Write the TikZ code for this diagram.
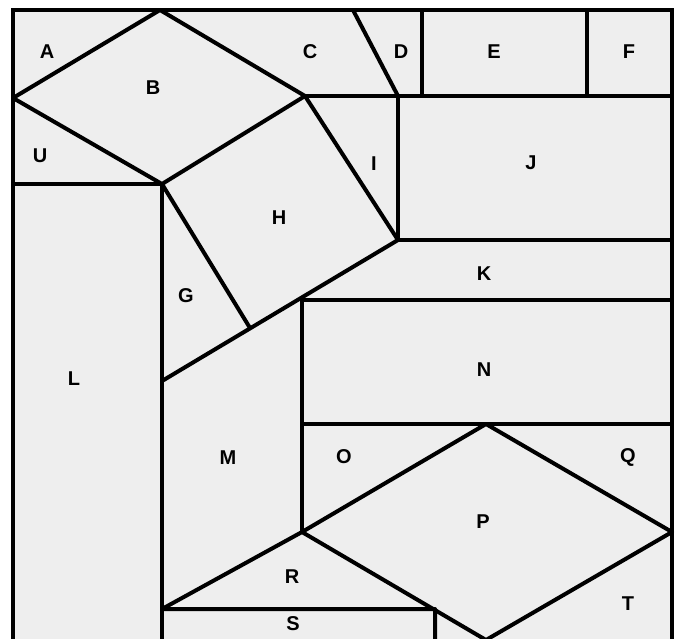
\documentclass[tikz,border=0pt]{standalone}
\usepackage{fontspec}
\setmainfont{Liberation Sans}
\usepackage{tikz}
\usepackage{xcolor}
\usetikzlibrary{positioning,calc}

\definecolor{tile}{HTML}{EEEEEE}

\begin{document}
\begin{tikzpicture}[
    x=1pt, y=-1pt,
    seam/.style={line width=4pt, black, line join=round},
    lbl/.style={font=\fontsize{20}{20}\selectfont\bfseries, inner sep=0pt}
]
    \useasboundingbox (0,0) rectangle (679,638);
    \clip (0,0) rectangle (679,638);

    % corner and seam points
    \coordinate (tl) at (13,10);
    \coordinate (tr) at (672,10);
    \coordinate (bl) at (13,660);
    \coordinate (br) at (672,660);
    \coordinate (Bt) at (160,10);
    \coordinate (Bl) at (13,98);
    \coordinate (Br) at (305,96);
    \coordinate (Bb) at (162,184);
    \coordinate (Hr) at (398,240);
    \coordinate (Hb) at (250,328);
    \coordinate (Gb) at (162,381);
    \coordinate (Dt) at (353,10);
    \coordinate (Db) at (398,96);
    \coordinate (Et) at (422,10);
    \coordinate (Ft) at (587,10);
    \coordinate (Kl) at (302,300);
    \coordinate (Nl) at (302,424);
    \coordinate (Pt) at (486,424);
    \coordinate (Pl) at (302,532);
    \coordinate (Pr) at (672,532);
    \coordinate (Pb) at (486,640);
    \coordinate (Rb) at (162,609);
    \coordinate (Sr) at (435,609);

    \fill[tile] (tl) rectangle (br);

    % outer frame
    \draw[seam, line join=miter] (bl) -- (tl) -- (tr) -- (br);

    % top band
    \draw[seam] (Bl) -- (Bt) -- (Br) -- (Bb) -- cycle;
    \draw[seam] (Dt) -- (Db);
    \draw[seam] (Br) -- (tr |- Br);
    \draw[seam] (Et) -- (Et |- Br);
    \draw[seam] (Ft) -- (Ft |- Br);
    \draw[seam] (Bl |- Bb) -- (Bb);

    % H square and its neighbours
    \draw[seam] (Br) -- (Hr) -- (Gb);
    \draw[seam] (Bb) -- (Hb);
    \draw[seam] (Db) -- (Hr) -- (tr |- Hr);
    \draw[seam] (Bb) -- (Bb |- bl);

    % middle rows
    \draw[seam] (Kl) -- (tr |- Kl);
    \draw[seam] (Nl) -- (tr |- Nl);
    \draw[seam] (Kl) -- (Pl);

    % P diamond and bottom strip
    \draw[seam] (Pl) -- (Pt) -- (Pr) -- (Pb) -- cycle;
    \draw[seam] (Pl) -- (Rb) -- (Sr) -- (Sr |- bl);

    % letters
    \node[lbl] (A) at (47,52) {A};
    \node[lbl] (B) at (153,88) {B};
    \node[lbl] (C) at (310,52) {C};
    \node[lbl] (D) at (401,52) {D};
    \node[lbl] (E) at (494,52) {E};
    \node[lbl] (F) at (629,52) {F};
    \node[lbl] (U) at (40,156) {U};
    \node[lbl] (I) at (374,164) {I};
    \node[lbl] (J) at (531,163) {J};
    \node[lbl] (H) at (279,218) {H};
    \node[lbl] (K) at (484,274) {K};
    \node[lbl] (G) at (186,296) {G};
    \node[lbl] (N) at (484,370) {N};
    \node[lbl] (L) at (74,379) {L};
    \node[lbl] (M) at (228,458) {M};
    \node[lbl] (O) at (344,457) {O};
    \node[lbl] (Q) at (628,457) {Q};
    \node[lbl] (P) at (483,522) {P};
    \node[lbl] (R) at (292,577) {R};
    \node[lbl] (T) at (628,604) {T};
    \node[lbl] (S) at (293,624) {S};
\end{tikzpicture}
\end{document}
